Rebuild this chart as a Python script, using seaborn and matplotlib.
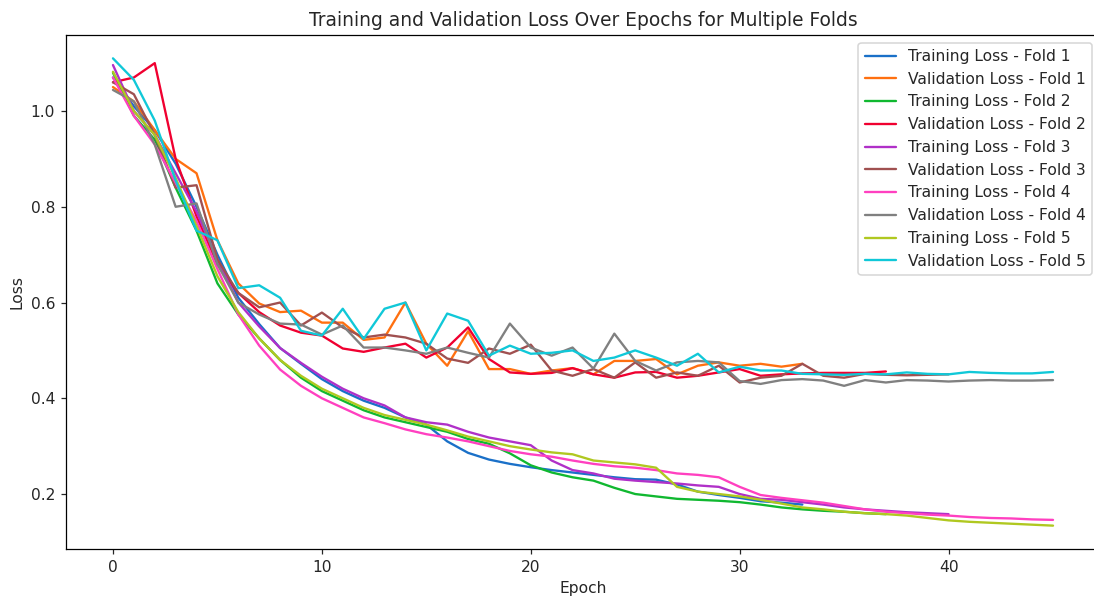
import matplotlib
matplotlib.use("Agg")
import matplotlib.pyplot as plt
import seaborn as sns
import pandas as pd

# loss per epoch
train_f1 = [1.07, 1.01, 0.96, 0.89, 0.80, 0.70, 0.61, 0.555, 0.505, 0.472, 0.44, 0.415,
            0.395, 0.38, 0.36, 0.345, 0.31, 0.286, 0.272, 0.263, 0.256, 0.25, 0.245, 0.24,
            0.235, 0.231, 0.23, 0.22, 0.205, 0.198, 0.192, 0.185, 0.182, 0.178]
val_f1 = [1.05, 1.02, 0.96, 0.90, 0.87, 0.73, 0.64, 0.598, 0.58, 0.583, 0.558, 0.558,
          0.522, 0.527, 0.60, 0.514, 0.468, 0.54, 0.461, 0.461, 0.451, 0.458, 0.463, 0.45,
          0.478, 0.478, 0.482, 0.45, 0.468, 0.475, 0.468, 0.472, 0.466, 0.472]
train_f2 = [1.08, 0.99, 0.94, 0.84, 0.75, 0.64, 0.575, 0.525, 0.48, 0.443, 0.415, 0.395,
            0.375, 0.36, 0.35, 0.34, 0.33, 0.315, 0.305, 0.285, 0.26, 0.245, 0.235, 0.228,
            0.213, 0.20, 0.195, 0.19, 0.188, 0.186, 0.183, 0.178, 0.172, 0.168, 0.165, 0.163,
            0.16, 0.158]
val_f2 = [1.06, 1.07, 1.10, 0.90, 0.78, 0.68, 0.62, 0.58, 0.552, 0.537, 0.531, 0.504,
          0.497, 0.506, 0.514, 0.485, 0.506, 0.548, 0.482, 0.454, 0.451, 0.453, 0.463, 0.45,
          0.443, 0.454, 0.455, 0.443, 0.447, 0.454, 0.461, 0.447, 0.45, 0.452, 0.453, 0.453,
          0.453, 0.456]
train_f3 = [1.096, 1.0, 0.95, 0.87, 0.79, 0.69, 0.60, 0.55, 0.505, 0.474, 0.445, 0.42,
            0.40, 0.385, 0.36, 0.35, 0.345, 0.33, 0.318, 0.31, 0.302, 0.27, 0.25, 0.243,
            0.232, 0.228, 0.225, 0.222, 0.218, 0.215, 0.20, 0.19, 0.188, 0.183, 0.178, 0.172,
            0.168, 0.165, 0.162, 0.16, 0.158]
val_f3 = [1.06, 1.035, 0.95, 0.84, 0.845, 0.69, 0.62, 0.59, 0.60, 0.552, 0.579, 0.548,
          0.527, 0.533, 0.527, 0.514, 0.483, 0.474, 0.504, 0.493, 0.512, 0.458, 0.447, 0.461,
          0.443, 0.475, 0.443, 0.454, 0.447, 0.468, 0.433, 0.443, 0.447, 0.472, 0.447, 0.443,
          0.451, 0.449, 0.448, 0.449, 0.45]
train_f4 = [1.07, 0.99, 0.93, 0.85, 0.77, 0.67, 0.575, 0.51, 0.46, 0.426, 0.40, 0.38,
            0.36, 0.348, 0.335, 0.325, 0.318, 0.31, 0.30, 0.29, 0.283, 0.278, 0.27, 0.263,
            0.258, 0.255, 0.25, 0.243, 0.24, 0.235, 0.215, 0.198, 0.192, 0.187, 0.182, 0.175,
            0.168, 0.163, 0.16, 0.157, 0.155, 0.152, 0.15, 0.149, 0.147, 0.146]
val_f4 = [1.044, 1.02, 0.93, 0.80, 0.807, 0.68, 0.60, 0.575, 0.556, 0.554, 0.533, 0.552,
          0.506, 0.506, 0.50, 0.493, 0.506, 0.495, 0.485, 0.556, 0.506, 0.489, 0.506, 0.462,
          0.535, 0.478, 0.458, 0.475, 0.478, 0.475, 0.436, 0.43, 0.438, 0.44, 0.437, 0.426,
          0.438, 0.433, 0.438, 0.437, 0.435, 0.437, 0.438, 0.437, 0.437, 0.438]
train_f5 = [1.082, 1.0, 0.95, 0.86, 0.76, 0.655, 0.58, 0.525, 0.48, 0.447, 0.42, 0.40,
            0.38, 0.365, 0.355, 0.345, 0.333, 0.32, 0.31, 0.30, 0.293, 0.287, 0.283, 0.27,
            0.266, 0.262, 0.255, 0.215, 0.205, 0.20, 0.195, 0.188, 0.18, 0.172, 0.168, 0.163,
            0.16, 0.158, 0.155, 0.15, 0.145, 0.142, 0.14, 0.138, 0.136, 0.134]
val_f5 = [1.11, 1.065, 0.98, 0.855, 0.75, 0.73, 0.63, 0.636, 0.61, 0.541, 0.531, 0.587,
          0.524, 0.587, 0.60, 0.50, 0.577, 0.562, 0.489, 0.51, 0.493, 0.495, 0.50, 0.478,
          0.485, 0.50, 0.485, 0.468, 0.493, 0.454, 0.466, 0.458, 0.458, 0.451, 0.45, 0.449,
          0.451, 0.45, 0.454, 0.451, 0.45, 0.455, 0.453, 0.452, 0.452, 0.455]

folds = [(train_f1, val_f1), (train_f2, val_f2), (train_f3, val_f3),
         (train_f4, val_f4), (train_f5, val_f5)]

colors = ['#1a70c8', '#ff7010', '#10b830', '#f00030', '#b030c8',
          '#a05050', '#ff40c0', '#808080', '#b0c820', '#10c8d8']

rows = []
for k, (tr, va) in enumerate(folds, start=1):
    for name, vals in (('Training', tr), ('Validation', va)):
        for ep, v in enumerate(vals):
            rows.append({'Epoch': ep, 'Loss': v, 'series': f'{name} Loss - Fold {k}'})
df = pd.DataFrame(rows)
order = list(dict.fromkeys(df['series']))

sns.set_style('white')
plt.rcParams['axes.edgecolor'] = 'black'
dpi = 111.7
fig, ax = plt.subplots(figsize=(1094 / dpi, 600 / dpi), dpi=dpi)
sns.lineplot(data=df, x='Epoch', y='Loss', hue='series', hue_order=order,
             palette=colors, linewidth=1.5, ax=ax)
ax.set_title('Training and Validation Loss Over Epochs for Multiple Folds')
ax.set_xlabel('Epoch')
ax.set_ylabel('Loss')
ax.set_xticks([0, 10, 20, 30, 40])
ax.set_yticks([0.2, 0.4, 0.6, 0.8, 1.0])
ax.tick_params(axis='both', which='both', direction='out', length=3.5, left=True, bottom=True)
ax.legend(title=None, loc='upper right')
# the reference is cropped just before the right spine
fig.subplots_adjust(left=0.0603, right=1.0055, top=0.9417, bottom=0.085)
fig.savefig('out.png', dpi=dpi)
